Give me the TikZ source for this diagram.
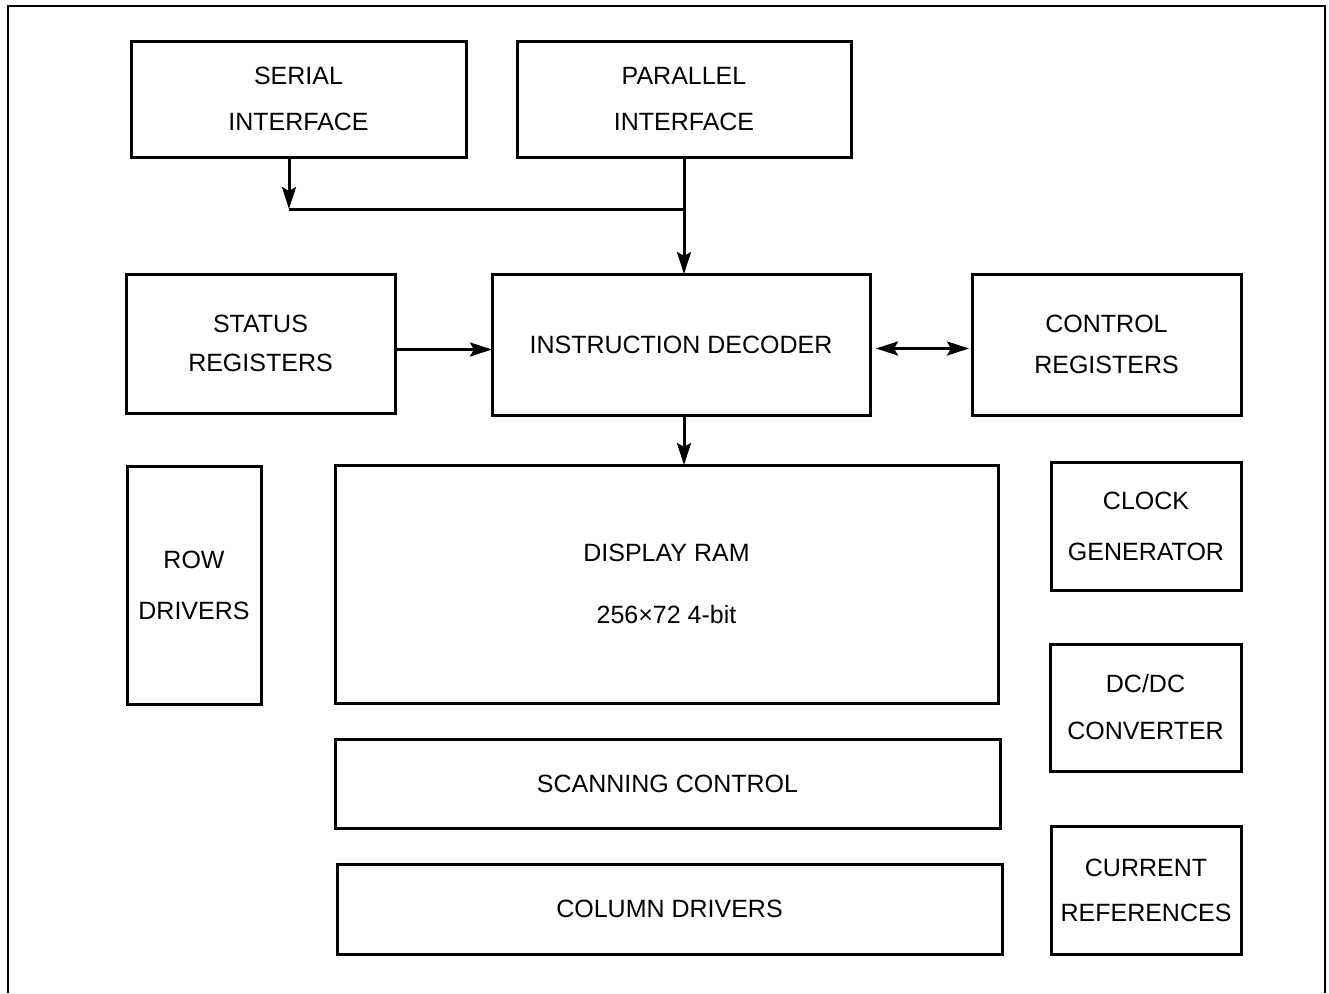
\documentclass[tikz,border=0pt]{standalone}
\usepackage{fontspec}
\setmainfont{Liberation Sans}
\usetikzlibrary{arrows.meta,calc}
\begin{document}
\begin{tikzpicture}[x=1pt,y=-1pt,
  box/.style={draw,line width=3pt,rectangle,inner sep=0pt,outer sep=0pt,align=center,
    font=\fontsize{25}{28}\selectfont},
  tip/.tip={Stealth[length=22pt,width=14pt,inset=4pt]},
  arr/.style={line width=3pt,-tip},
  darr/.style={line width=3pt,tip-tip},
  conn/.style={line width=3pt},
  frame/.style={line width=2pt}]
\useasboundingbox (0,0) rectangle (1329,993);
\draw[frame] (8,993) -- (8,6) -- (1325,6) -- (1325,993);

\node[box,minimum width=335pt,minimum height=116pt] (serial) at (298.5,99) {SERIAL\\[18pt]INTERFACE};
\node[box,minimum width=334pt,minimum height=116pt] (parallel) at (684,99) {PARALLEL\\[18pt]INTERFACE};
\node[box,minimum width=269pt,minimum height=139pt] (status) at (260.5,343.5) {STATUS\\[11pt]REGISTERS};
\node[box,minimum width=378pt,minimum height=141pt] (decoder) at (681,344.5) {INSTRUCTION DECODER};
\node[box,minimum width=269pt,minimum height=141pt] (control) at (1106.5,344.5) {CONTROL\\[13pt]REGISTERS};
\node[box,minimum width=663pt,minimum height=238pt] (ram) at (666.5,584) {DISPLAY RAM\\[34pt]256×72 4-bit};
\node[box,minimum width=134pt,minimum height=238pt] (row) at (194,585) {ROW\\[23pt]DRIVERS};
\node[box,minimum width=190pt,minimum height=128pt] (clock) at (1146,526) {CLOCK\\[23pt]GENERATOR};
\node[box,minimum width=191pt,minimum height=127pt] (dcdc) at (1145.5,707.5) {DC/DC\\[19pt]CONVERTER};
\node[box,minimum width=665pt,minimum height=89pt] (scan) at (667.5,783.5) {SCANNING CONTROL};
\node[box,minimum width=665pt,minimum height=90pt] (column) at (669.5,909) {COLUMN DRIVERS};
\node[box,minimum width=190pt,minimum height=128pt] (current) at (1146,890) {CURRENT\\[17pt]REFERENCES};

\coordinate (j1) at (289,209);
\coordinate (j2) at (684,209);
\draw[arr] (serial.south -| j1) -- (j1);
\draw[conn] (j1) -- (j2);
\draw[arr] (parallel.south) -- (parallel.south |- decoder.north);
\draw[arr] ([yshift=-6pt]status.east) -- ([yshift=-6pt]status.east -| decoder.west);
\draw[darr,shorten <=6pt,shorten >=3pt] ([yshift=-4pt]decoder.east) -- ([yshift=-4pt]control.west);
\draw[arr] ([xshift=3pt]decoder.south) -- ([xshift=3pt]decoder.south |- ram.north);
\end{tikzpicture}
\end{document}
